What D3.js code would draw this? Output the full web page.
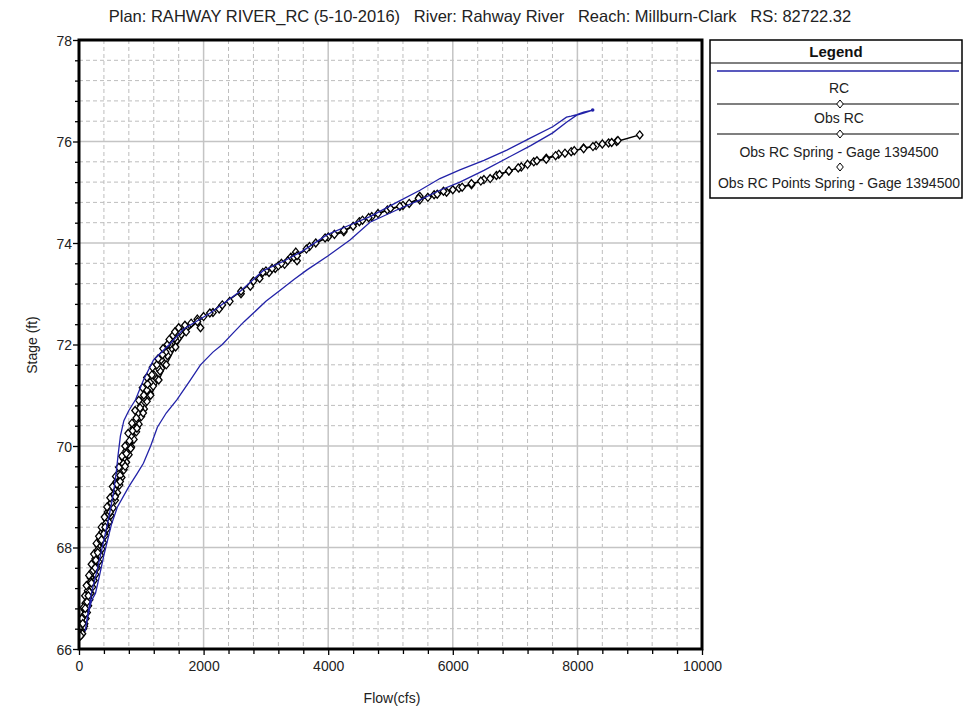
<!DOCTYPE html>
<html><head><meta charset="utf-8">
<script src="https://cdn.jsdelivr.net/npm/d3@7"></script>
<style>
body{margin:0;background:#fff;}
svg{font-family:"Liberation Sans",Arial,sans-serif;}
</style></head>
<body><svg id="c" width="964" height="710"></svg>
<script>
const titleText = "Plan: RAHWAY RIVER_RC (5-10-2016)   River: Rahway River   Reach: Millburn-Clark   RS: 82722.32";
const xLabel = "Flow(cfs)";
const yLabel = "Stage (ft)";
const xTicks = [0, 2000, 4000, 6000, 8000, 10000];
const yTicks = [66, 68, 70, 72, 74, 76, 78];
const legendNames = ["RC", "Obs RC", "Obs RC Spring - Gage 1394500", "Obs RC Points Spring - Gage 1394500"];

// RC loop (lower branch up, upper branch back down)
const rcFlow = [100,150,200,265,330,400,450,520,617,800,930,1034,1150,1258,1400,1570,1787,1950,2150,2300,2476,2650,2800,3000,3229,3450,3660,4000,4350,4671,5100,5473,5793,6114,6500,6867,7250,7604,7825,7990,8100,8245,
  8100,7990,7900,7825,7604,7250,6867,6500,6114,5793,5473,5100,4671,4300,3978,3600,3300,2950,2588,2107,1675,1450,1194,1035,907,800,720,665,630,600,553,480,400,300,200,130,100];
const rcStage = [66.35,66.7,66.95,67.1,67.45,67.85,68.1,68.45,68.8,69.2,69.45,69.66,70.0,70.37,70.65,70.91,71.3,71.6,71.85,72.0,72.23,72.45,72.62,72.85,73.07,73.28,73.47,73.75,74.06,74.41,74.65,74.85,75.04,75.2,75.43,75.67,75.92,76.17,76.38,76.52,76.56,76.62,
  76.58,76.53,76.5,76.48,76.29,76.07,75.83,75.63,75.44,75.27,75.04,74.8,74.52,74.33,74.16,73.85,73.65,73.45,73.05,72.62,72.3,72.0,71.69,71.3,70.91,70.7,70.5,70.2,69.85,69.5,69.07,68.6,68.15,67.6,67.1,66.6,66.35];

// Obs RC (line + diamonds)
const obsRcFlow = [24,60,100,150,200,260,300,360,420,500,580,660,740,830,930,1030,1150,1280,1400,1550,1720,1900,2100,2300,2600,2800,3000,3200,3450,3700,4000,4250,4500,4700,4950,5200,5470,5700,5900,6100,6300,6500,6700,6900,7100,7300,7500,7700,7900,8100,8300,8500,8630,9000];
const obsRcStage = [66.26,66.5,66.8,67.05,67.3,67.6,67.9,68.15,68.4,68.7,69.0,69.3,69.6,69.95,70.35,70.65,71.0,71.3,71.6,71.95,72.25,72.45,72.62,72.78,73.05,73.25,73.45,73.55,73.72,73.93,74.12,74.22,74.42,74.52,74.65,74.74,74.85,74.95,75.0,75.08,75.15,75.25,75.33,75.42,75.5,75.6,75.67,75.75,75.8,75.87,75.92,75.97,76.0,76.13];

// Obs RC Spring - Gage 1394500 (line + diamonds)
const springFlow = [2950,3100,3250,3350,3500,3650,3800,3950,4100,4250,4400,4550,4650,4800,5000,5150,5300,5450,5600,5750,5850,6000,6150,6300,6450,6600,6750,6900,7050,7200,7350,7500,7650,7800,7950,8100,8250,8400,8550,8650];
const springStage = [73.42,73.5,73.6,73.65,73.75,73.88,74.0,74.1,74.17,74.25,74.33,74.45,74.5,74.58,74.68,74.72,74.78,74.88,74.9,74.96,75.02,75.05,75.1,75.17,75.22,75.27,75.35,75.42,75.48,75.55,75.62,75.65,75.72,75.77,75.82,75.86,75.9,75.95,75.98,76.02];

// Obs RC Points Spring - Gage 1394500 (diamonds only)
const ptFlow = [24,40,70,30,90,55,110,70,130,85,150,100,170,120,190,140,215,160,240,185,265,210,290,235,315,260,340,285,365,310,390,340,420,370,450,400,480,430,510,460,545,495,580,530,615,565,650,600,685,640,720,680,760,715,800,755,840,795,880,835,920,870,960,910,1000,950,1045,995,1090,1040,1140,1090,1190,1140,1240,1200,1300,1260,1360,1320,1420,1390,1490,1460,1560,1540,1640,1620,1720,1700,1800,1900,2000,2150,2250,1950,2420,2600,2750,2900,3050,3150,3300,3400,3480,3500,5470,
  55,85,45,105,75,130,95,165,120,190,160,230,200,270,240,300,280,350,320,400,360,430,410,480,450,520,500,560,540,610,590,660,640,710,690,760,740,810,790,860,850,920,900,980,960,1040,1020,1100,1090,1170,1180,1250,1270,1340,1350,1420,1450,1510,1540,1600];
const ptStage = [66.26,66.35,66.4,66.45,66.5,66.55,66.6,66.65,66.72,66.78,66.85,66.9,66.97,67.03,67.1,67.15,67.22,67.28,67.35,67.4,67.47,67.52,67.6,67.65,67.72,67.78,67.85,67.9,67.97,68.03,68.1,68.17,68.24,68.3,68.37,68.43,68.5,68.56,68.63,68.7,68.78,68.85,68.93,69.0,69.08,69.15,69.23,69.3,69.38,69.45,69.53,69.6,69.68,69.75,69.83,69.9,69.98,70.05,70.13,70.2,70.28,70.35,70.43,70.5,70.58,70.65,70.73,70.8,70.88,70.95,71.03,71.1,71.18,71.25,71.33,71.4,71.48,71.55,71.63,71.7,71.78,71.85,71.93,72.0,72.07,72.13,72.2,72.26,72.32,72.38,72.42,72.5,72.55,72.63,72.7,72.33,72.85,73.0,73.15,73.3,73.42,73.5,73.58,73.72,73.82,73.65,74.92,
  66.3,66.45,66.6,66.7,66.82,66.93,67.05,67.12,67.25,67.33,67.45,67.55,67.67,67.75,67.87,67.95,68.08,68.13,68.22,68.27,68.4,68.47,68.6,68.66,68.8,68.88,68.98,69.05,69.2,69.25,69.4,69.42,69.58,69.65,69.8,69.85,70.0,70.1,70.25,70.3,70.45,70.55,70.7,70.75,70.9,71.0,71.15,71.22,71.35,71.4,71.55,71.6,71.72,71.8,71.92,72.0,72.1,72.18,72.25,72.33];

const svg = d3.select("#c");
const L = 79, R = 702, T = 40, B = 649;
const x = d3.scaleLinear().domain([0, 10000]).range([L, R]);
const y = d3.scaleLinear().domain([66, 78]).range([B, T]);

// grid
const g = svg.append("g");
const minorX = d3.range(400, 10000, 400).filter(v => v % 2000 !== 0);
const minorY = d3.range(66.4, 78, 0.4).map(v => +v.toFixed(1)).filter(v => Math.abs(v/2 - Math.round(v/2)) > 1e-6);
g.selectAll(".mx").data(minorX).join("line").attr("x1", d => x(d)).attr("x2", d => x(d)).attr("y1", T).attr("y2", B)
  .attr("stroke", "#bdbdbd").attr("stroke-dasharray", "4,3").attr("stroke-width", 1);
g.selectAll(".my").data(minorY).join("line").attr("y1", d => y(d)).attr("y2", d => y(d)).attr("x1", L).attr("x2", R)
  .attr("stroke", "#bdbdbd").attr("stroke-dasharray", "4,3").attr("stroke-width", 1);
g.selectAll(".Mx").data(xTicks.slice(1, -1)).join("line").attr("x1", d => x(d)).attr("x2", d => x(d)).attr("y1", T).attr("y2", B)
  .attr("stroke", "#c4c4c4").attr("stroke-width", 1.5);
g.selectAll(".My").data(yTicks.slice(1, -1)).join("line").attr("y1", d => y(d)).attr("y2", d => y(d)).attr("x1", L).attr("x2", R)
  .attr("stroke", "#c4c4c4").attr("stroke-width", 1.5);

// clip
svg.append("clipPath").attr("id", "clip").append("rect").attr("x", L).attr("y", T).attr("width", R - L).attr("height", B - T);
const plot = svg.append("g").attr("clip-path", "url(#clip)");

const line = d3.line().x(d => x(d[0])).y(d => y(d[1]));
const diamond = (cx, cy) => `M${cx},${cy-4}L${cx+3.3},${cy}L${cx},${cy+4}L${cx-3.3},${cy}Z`;

const obsRc = obsRcFlow.map((f, i) => [f, obsRcStage[i]]);
const spring = springFlow.map((f, i) => [f, springStage[i]]);
const pts = ptFlow.map((f, i) => [f, ptStage[i]]);
const rc = rcFlow.map((f, i) => [f, rcStage[i]]);

plot.append("path").attr("d", line(obsRc)).attr("fill", "none").attr("stroke", "#000").attr("stroke-width", 1.4);
plot.append("path").attr("d", line(spring)).attr("fill", "none").attr("stroke", "#000").attr("stroke-width", 1.4);
plot.selectAll(".dp").data(pts.concat(obsRc, spring)).join("path")
  .attr("d", d => diamond(x(d[0]), y(d[1]))).attr("fill", "#fff").attr("stroke", "#000").attr("stroke-width", 1.3);
plot.append("path").attr("d", line(rc)).attr("fill", "none").attr("stroke", "#2222a8").attr("stroke-width", 1.3);
plot.append("circle").attr("cx", x(rcFlow[41])).attr("cy", y(rcStage[41])).attr("r", 1.8).attr("fill", "#2222a8");

// axes
const minorXT = d3.range(0, 10001, 400).filter(v => v % 2000 !== 0);
const minorYT = d3.range(66, 78.01, 0.4).map(v => +v.toFixed(1)).filter(v => Math.abs(v/2 - Math.round(v/2)) > 1e-6);
const ax = svg.append("g").attr("transform", `translate(0,${B})`)
  .call(d3.axisBottom(x).tickValues(xTicks).tickSize(6).tickPadding(6).tickFormat(d3.format("d")));
const axm = svg.append("g").attr("transform", `translate(0,${B})`)
  .call(d3.axisBottom(x).tickValues(minorXT).tickSize(5).tickFormat(""));
const ay = svg.append("g").attr("transform", `translate(${L},0)`)
  .call(d3.axisLeft(y).tickValues(yTicks).tickSize(6).tickPadding(1).tickFormat(d3.format("d")));
const aym = svg.append("g").attr("transform", `translate(${L},0)`)
  .call(d3.axisLeft(y).tickValues(minorYT).tickSize(4).tickFormat(""));
[ax, axm, ay, aym].forEach(a => {
  a.select(".domain").remove();
  a.selectAll("line").attr("stroke", "#000").attr("stroke-width", 1.3);
  a.selectAll("text").attr("font-size", 14).attr("fill", "#222").attr("font-family", "Liberation Sans, Arial, sans-serif");
});
ay.selectAll("text").attr("dy", "0.36em");

// frame
svg.append("rect").attr("x", L).attr("y", T).attr("width", R - L).attr("height", B - T)
  .attr("fill", "none").attr("stroke", "#000").attr("stroke-width", 3);

// title & labels
svg.append("text").attr("x", 480).attr("y", 22).attr("text-anchor", "middle").attr("font-size", 16.5).attr("fill", "#222")
  .attr("xml:space", "preserve").style("white-space", "pre").text(titleText);
svg.append("text").attr("x", 392).attr("y", 703).attr("text-anchor", "middle").attr("font-size", 14).attr("fill", "#222").text(xLabel);
svg.append("text").attr("transform", "translate(37,345) rotate(-90)").attr("text-anchor", "middle").attr("font-size", 14).attr("fill", "#222").text(yLabel);

// legend
const lg = svg.append("g");
const LX = 710, LW = 252, LT = 40, LB = 198;
lg.append("rect").attr("x", LX).attr("y", LT).attr("width", LW).attr("height", LB - LT).attr("fill", "#fff").attr("stroke", "#000").attr("stroke-width", 1.5);
lg.append("line").attr("x1", LX).attr("x2", LX + LW).attr("y1", 63).attr("y2", 63).attr("stroke", "#000").attr("stroke-width", 1);
lg.append("text").attr("x", LX + LW / 2).attr("y", 57).attr("text-anchor", "middle").attr("font-size", 15).attr("font-weight", "bold").attr("fill", "#111").text("Legend");
const cx = 840, lx1 = 717, lx2 = 959;
lg.append("line").attr("x1", lx1).attr("x2", lx2).attr("y1", 71).attr("y2", 71).attr("stroke", "#2222a8").attr("stroke-width", 1.3);
lg.append("line").attr("x1", lx1).attr("x2", lx2).attr("y1", 104).attr("y2", 104).attr("stroke", "#000").attr("stroke-width", 1.2);
lg.append("line").attr("x1", lx1).attr("x2", lx2).attr("y1", 134).attr("y2", 134).attr("stroke", "#000").attr("stroke-width", 1.2);
[104, 134, 167].forEach(yy => lg.append("path").attr("d", diamond(cx, yy)).attr("fill", "#fff").attr("stroke", "#000"));
const labelY = [93, 123, 157, 188];
legendNames.forEach((n, i) => lg.append("text").attr("x", cx - 1).attr("y", labelY[i]).attr("text-anchor", "middle").attr("font-size", 14).attr("fill", "#222").text(n));
</script></body></html>
